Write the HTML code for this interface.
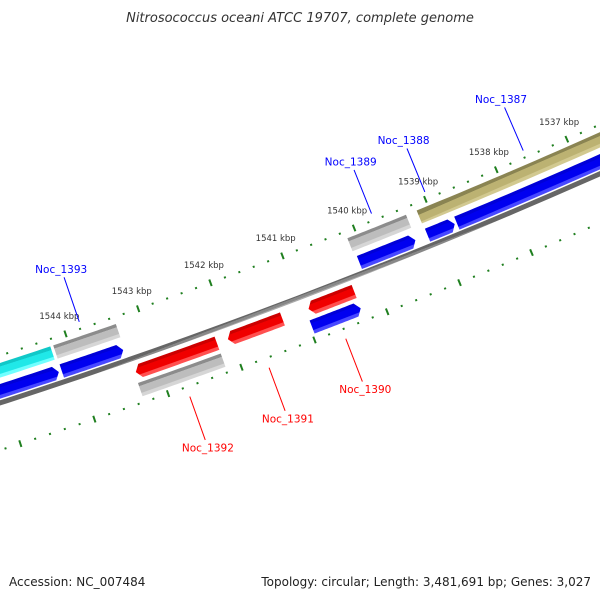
<!DOCTYPE html>
<html><head><meta charset="utf-8"><style>
html,body{margin:0;padding:0;background:#fff;}
svg{display:block;font-family:"DejaVu Sans","Liberation Sans",sans-serif;}
</style></head><body>
<svg id="map" width="600" height="600" viewBox="0 0 600 600" xmlns="http://www.w3.org/2000/svg">
<rect width="600" height="600" fill="#fff"/>
<defs id="defs"></defs>
<text x="300" y="22" text-anchor="middle" font-size="13" font-style="italic" fill="#333">Nitrosococcus oceani ATCC 19707, complete genome</text>
<g id="ticks"></g>
<g id="feats"></g>
<g id="labels"></g>
<text x="9" y="586" font-size="12" fill="#222">Accession: NC_007484</text>
<text x="591" y="586" text-anchor="end" font-size="12" fill="#222">Topology: circular; Length: 3,481,691 bp; Genes: 3,027</text>
</svg>
<script>
// data
const majorTicks = [1536,1537,1538,1539,1540,1541,1542,1543,1544,1545,1546];
const tickLabels = ["1537 kbp","1538 kbp","1539 kbp","1540 kbp","1541 kbp","1542 kbp","1543 kbp","1544 kbp"];
const tickLabelKbp = [1537,1538,1539,1540,1541,1542,1543,1544];
const featLow  = [1544.24,1543.34,1539.31,1535.5,1544.24,1543.36,1539.32,1538.77,1536.42,1542.19,1541.29,1540.30,1542.19,1540.30];
const featHigh = [1546.5,1544.20,1540.13,1539.16,1546.5,1544.20,1540.10,1539.15,1538.74,1543.30,1542.04,1540.93,1543.32,1540.97];
const featTrack= [0,0,0,0,1,1,1,1,1,2,2,2,3,3];
const featArrow= ["none","none","none","none","low","low","low","low","low","high","high","high","none","low"];
const featKind = ["cyan","gray","gray","olive","blue","blue","blue","blue","blue","red","red","red","gray","blue"];
const labelNames = ["Noc_1393","Noc_1389","Noc_1388","Noc_1387","Noc_1392","Noc_1391","Noc_1390"];
const labelKbp = [1543.78,1539.72,1538.97,1537.58,1542.75,1541.67,1540.62];
const labelSide = ["in","in","in","in","out","out","out"];

const NS="http://www.w3.org/2000/svg";
const Cx=-1886, Cy=-5435;
const trackR=[6104,6124,6149,6167];
const HW=7;
const pal={gray:["#8c8c8c","#bdbdbd","#d6d6d6"],blue:["#0000d8","#0000f0","#4848ff"],red:["#cc0000","#f00000","#ff5050"],cyan:["#10c8c8","#20e8e8","#70ffff"],olive:["#8a8452","#bcb272","#d2c990"]};
function ang(k){return (71.31+(k-1544)*0.723)*Math.PI/180;}
function pt(r,k){const a=ang(k);return [Cx+r*Math.cos(a),Cy+r*Math.sin(a)];}
function mk(tag,attrs,parent){const e=document.createElementNS(NS,tag);for(const k in attrs)e.setAttribute(k,attrs[k]);parent.appendChild(e);return e;}
function arcPts(r,k1,k2){const out=[];const n=24;for(let i=0;i<=n;i++){out.push(pt(r,k1+(k2-k1)*i/n));}return out;}
function poly(p){return "M"+p.map(q=>q[0].toFixed(2)+","+q[1].toFixed(2)).join("L")+"Z";}
const defs=document.getElementById('defs');
let gid=0;
function grad(r1,r2,k,cols){
  const id="g"+(gid++);
  const a=pt(r1,k), b=pt(r2,k);
  const g=mk('linearGradient',{id:id,gradientUnits:"userSpaceOnUse",x1:a[0],y1:a[1],x2:b[0],y2:b[1]},defs);
  [[0,cols[0]],[0.22,cols[0]],[0.24,cols[1]],[0.72,cols[1]],[0.76,cols[2]],[1,cols[2]]].forEach(s=>mk('stop',{offset:s[0],"stop-color":s[1]},g));
  return id;
}
// backbone
const feats=document.getElementById('feats');
{
  const r1=6132.5,r2=6137.5;
  const id=grad(r1,r2,1541,["#666","#888","#aaa"]);
  const p=arcPts(r1,1535,1547).concat(arcPts(r2,1547,1535));
  const e=mk('path',{d:poly(p),fill:"url(#"+id+")"},feats);
  
  
}
// ticks
const tg=document.getElementById('ticks');
[6090,6180].forEach((R,ri)=>{
  for(let k=1535;k<=1546.001;k+=0.2){
    const kk=Math.round(k*10)/10;
    const major=Math.abs(kk-Math.round(kk))<0.01;
    const a=pt(R-(major?3.5:1),kk), b=pt(R+(major?3.5:1),kk);
    const e=mk('line',{x1:a[0],y1:a[1],x2:b[0],y2:b[1],stroke:"#1f7f1f","stroke-width":major?2:2},tg);
    
    
  }
});
tickLabelKbp.forEach((k,i)=>{
  const p=pt(6071,k);
  const t=mk('text',{x:p[0].toFixed(1),y:(p[1]+3).toFixed(1),"text-anchor":"middle","font-size":"8.5",fill:"#333"},tg);
  t.textContent=tickLabels[i];
  
  
});
// features
const AH=0.065;
featLow.forEach((lo,i)=>{
  const hi=featHigh[i], rc=trackR[featTrack[i]], r1=rc-HW, r2=rc+HW;
  let p;
  if(featArrow[i]==="low"){
    p=arcPts(r1,hi,lo+AH).concat([pt(rc,lo)]).concat(arcPts(r2,lo+AH,hi));
  } else if(featArrow[i]==="high"){
    p=arcPts(r1,lo,hi-AH).concat([pt(rc,hi)]).concat(arcPts(r2,hi-AH,lo));
  } else {
    p=arcPts(r1,lo,hi).concat(arcPts(r2,hi,lo));
  }
  const id=grad(r1,r2,(lo+hi)/2,pal[featKind[i]]);
  const e=mk('path',{d:poly(p),fill:"url(#"+id+")"},feats);
  
  
});
// labels
const lg=document.getElementById('labels');
labelNames.forEach((n,i)=>{
  const k=labelKbp[i], inner=labelSide[i]==="in";
  const col=inner?"#0000ff":"#ff0000";
  const a=pt(inner?6083:6190,k), b=pt(inner?6036:6236,k), t=pt(inner?6027:6244,k);
  const l=mk('line',{x1:a[0],y1:a[1],x2:b[0],y2:b[1],stroke:col,"stroke-width":1},lg);
  
  
  const tx=mk('text',{x:t[0].toFixed(1),y:(t[1]+4).toFixed(1),"text-anchor":"middle","font-size":"10.5",fill:col},lg);
  tx.textContent=n;
  
  
});
</script>
</body></html>
